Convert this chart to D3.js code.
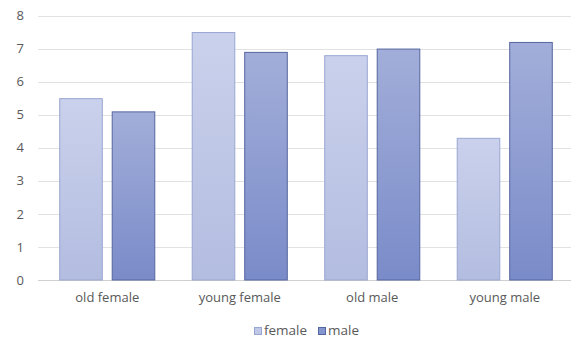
<!DOCTYPE html>
<html><head><meta charset="utf-8">
<script src="https://cdn.jsdelivr.net/npm/d3@7"></script>
<style>body{margin:0;background:#fff}svg{display:block}</style>
</head><body>
<svg id="c" width="581" height="340"></svg>
<script>
const categories = ["old female", "young female", "old male", "young male"];
const seriesNames = ["female", "male"];
const femaleValues = [5.5, 7.5, 6.8, 4.3];
const maleValues = [5.1, 6.9, 7.0, 7.2];
const yTicks = [0, 1, 2, 3, 4, 5, 6, 7, 8];

const svg = d3.select("#c");
const font = "'Open Sans', 'Liberation Sans', sans-serif";
const plotL = 41, plotR = 571, plotT = 15.5, plotB = 280;

const defs = svg.append("defs");
const grads = [
  {id: "gF", a: "#cad1ec", b: "#b3bde0"},
  {id: "gM", a: "#a2aed9", b: "#7a8bc9"}
];
grads.forEach(g => {
  const lg = defs.append("linearGradient").attr("id", g.id).attr("x1", 0).attr("y1", 0).attr("x2", 0).attr("y2", 1);
  lg.append("stop").attr("offset", "0%").attr("stop-color", g.a);
  lg.append("stop").attr("offset", "100%").attr("stop-color", g.b);
});
const fills = ["url(#gF)", "url(#gM)"];
const strokes = ["#9aa6d2", "#55659f"];
const legendFills = ["#c0c8e7", "#8595cf"];

const x = d3.scaleBand().domain(categories).range([plotL, plotR]).paddingInner(0.275).paddingOuter(0.1375);
const x1 = d3.scaleBand().domain(seriesNames).range([0, x.bandwidth()]).paddingInner(0.17);
const y = d3.scaleLinear().domain([0, 8]).range([plotB, plotT]);

// gridlines
svg.append("g").selectAll("line").data(yTicks).join("line")
  .attr("x1", 38).attr("x2", plotR).attr("y1", d => Math.round(y(d)) + 0.5).attr("y2", d => Math.round(y(d)) + 0.5)
  .attr("stroke", d => d === 0 ? "#d0d0d0" : "#e2e2e2").attr("stroke-width", 1);

// y axis labels
const yAxis = d3.axisLeft(y).tickValues(yTicks).tickSize(0).tickPadding(0).tickFormat(d3.format("d"));
const ya = svg.append("g").attr("transform", "translate(24,0)").call(yAxis);
ya.select(".domain").remove();
ya.selectAll("text").attr("fill", "#595959").attr("font-size", 13).attr("font-family", font);

// bars
const data = categories.map((c, i) => ({c, vals: [femaleValues[i], maleValues[i]]}));
const g = svg.append("g").selectAll("g").data(data).join("g").attr("transform", d => `translate(${x(d.c)},0)`);
g.selectAll("rect").data(d => d.vals.map((v, k) => ({v, k}))).join("rect")
  .attr("x", d => x1(seriesNames[d.k]) + 0.5)
  .attr("width", x1.bandwidth() - 1)
  .attr("y", d => y(d.v) + 0.5)
  .attr("height", d => plotB - y(d.v) - 0.5)
  .attr("fill", d => fills[d.k])
  .attr("stroke", d => strokes[d.k]).attr("stroke-width", 1);

// x axis labels
const xAxis = d3.axisBottom(x).tickSize(0).tickPadding(0);
const xa = svg.append("g").attr("transform", "translate(0,293)").call(xAxis);
xa.select(".domain").remove();
xa.selectAll("text").attr("fill", "#595959").attr("font-size", 13).attr("font-family", font);

// legend
const leg = svg.append("g");
const legX = [254, 318];
seriesNames.forEach((s, k) => {
  leg.append("rect").attr("x", legX[k] + 0.5).attr("y", 327.5).attr("width", 7).attr("height", 7)
    .attr("fill", legendFills[k]).attr("stroke", strokes[k]);
  leg.append("text").attr("x", legX[k] + 10).attr("y", 335).text(s)
    .attr("fill", "#595959").attr("font-size", 13.5).attr("font-family", font);
});
</script>
</body></html>
